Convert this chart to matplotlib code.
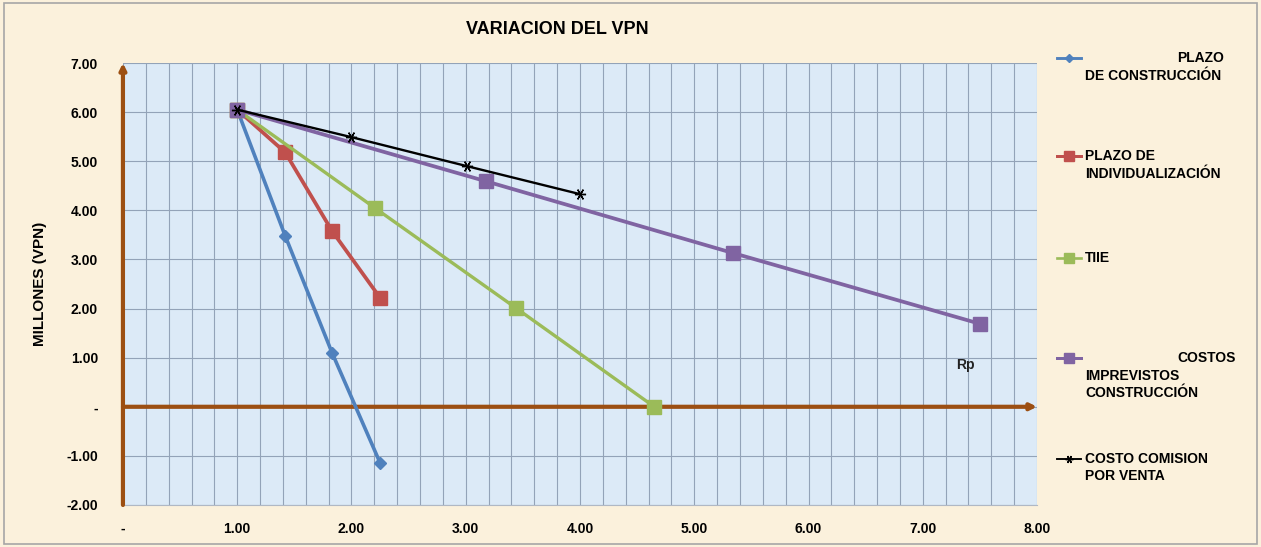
import matplotlib.pyplot as plt
import matplotlib.ticker as mticker
from matplotlib.lines import Line2D
from matplotlib.patches import Rectangle

plt.rcParams['font.family'] = ['Liberation Sans', 'DejaVu Sans']

# === DATOS ===
x_plazo_constr = [1.00, 1.42, 1.83, 2.25]
y_plazo_constr = [6.05, 3.48, 1.10, -1.14]

x_plazo_indiv = [1.00, 1.42, 1.83, 2.25]
y_plazo_indiv = [6.05, 5.18, 3.58, 2.22]

x_tiie = [1.00, 2.21, 3.44, 4.65]
y_tiie = [6.05, 4.04, 2.01, 0.00]

x_costos_impr = [1.00, 3.18, 5.34, 7.50]
y_costos_impr = [6.05, 4.59, 3.13, 1.69]

x_comision = [1.00, 2.00, 3.01, 4.00]
y_comision = [6.05, 5.49, 4.90, 4.33]

nombres = ['PLAZO DE CONSTRUCCIÓN', 'PLAZO DE INDIVIDUALIZACIÓN', 'TIIE',
           'COSTOS IMPREVISTOS CONSTRUCCIÓN', 'COSTO COMISION POR VENTA']

colores = ['#4F81BD', '#C0504D', '#9BBB59', '#8064A2', '#000000']
marcadores = ['D', 's', 's', 's', (6, 2, 90)]
tamanos = [6, 10, 10, 10, 8]
anchos = [2.6, 2.7, 2.4, 2.7, 1.7]

cafe = '#9C4F12'
fondo = '#FBF1DC'

# === FIGURA ===
fig = plt.figure(figsize=(12.61, 5.47), dpi=100, facecolor=fondo)
fig.add_artist(Rectangle((0.003, 0.006), 0.994, 0.988, transform=fig.transFigure,
                         facecolor='none', edgecolor='#A6A6A6', lw=1.2))

ax = fig.add_axes([0.0975, 0.0768, 0.7249, 0.808])
ax.set_facecolor('#DCEAF7')
ax.set_xlim(0, 8)
ax.set_ylim(-2, 7)

ax.xaxis.set_major_locator(mticker.MultipleLocator(1))
ax.xaxis.set_minor_locator(mticker.MultipleLocator(0.2))
ax.yaxis.set_major_locator(mticker.MultipleLocator(1))
ax.grid(True, which='both', axis='x', color='#93A3B8', lw=0.8)
ax.grid(True, which='major', axis='y', color='#93A3B8', lw=0.8)
ax.set_axisbelow(True)

def fmt(v, pos):
    return '-' if abs(v) < 1e-9 else f'{v:.2f}'

ax.xaxis.set_major_formatter(mticker.FuncFormatter(fmt))
ax.yaxis.set_major_formatter(mticker.FuncFormatter(fmt))
ax.tick_params(axis='both', which='both', length=0, labelsize=10, pad=12)
ax.tick_params(axis='y', pad=18)
for lbl in ax.get_xticklabels() + ax.get_yticklabels():
    lbl.set_fontweight('bold')

for s in ['top', 'right', 'left']:
    ax.spines[s].set_visible(False)
ax.spines['bottom'].set_color('#B0B8C4')
ax.spines['bottom'].set_linewidth(0.8)

# ejes con flecha
ax.annotate('', xy=(0, 7.0), xytext=(0, -2.0), xycoords='data',
            arrowprops=dict(arrowstyle='-|>', color=cafe, lw=3, mutation_scale=9,
                            shrinkA=0, shrinkB=0), annotation_clip=False)
ax.annotate('', xy=(8.0, 0), xytext=(0, 0), xycoords='data',
            arrowprops=dict(arrowstyle='-|>', color=cafe, lw=3, mutation_scale=9,
                            shrinkA=0, shrinkB=0), annotation_clip=False)

series = [(x_plazo_constr, y_plazo_constr), (x_plazo_indiv, y_plazo_indiv),
          (x_tiie, y_tiie), (x_costos_impr, y_costos_impr), (x_comision, y_comision)]
for i, (xs, ys) in enumerate(series):
    ax.plot(xs, ys, color=colores[i], lw=anchos[i], marker=marcadores[i],
            markersize=tamanos[i], zorder=3 + i)

ax.text(7.37, 0.85, 'Rp', fontsize=10, fontweight='bold', color='#222222',
        ha='center', va='center')

ax.set_ylabel('MILLONES (VPN)', fontsize=11, fontweight='bold', labelpad=14)
fig.text(557 / 1261, 1 - 30 / 547, 'VARIACION DEL VPN', fontsize=13,
         fontweight='bold', ha='center', va='center')

# === LEYENDA MANUAL ===
W, H = 1261, 547
entradas = [
    (58, [('PLAZO', 'right', 1224), ('DE CONSTRUCCIÓN', 'left', 1085)]),
    (156, [('PLAZO DE', 'left', 1085), ('INDIVIDUALIZACIÓN', 'left', 1085)]),
    (258, [('TIIE', 'left', 1085)]),
    (358, [('COSTOS', 'right', 1236), ('IMPREVISTOS', 'left', 1085),
           ('CONSTRUCCIÓN', 'left', 1085)]),
    (459, [('COSTO COMISION', 'left', 1085), ('POR VENTA', 'left', 1085)]),
]
for i, (yy, lineas) in enumerate(entradas):
    yf = 1 - yy / H
    fig.add_artist(Line2D([1057 / W, 1081 / W], [yf, yf], transform=fig.transFigure,
                          color=colores[i], lw=anchos[i] * 0.8))
    fig.add_artist(Line2D([1069 / W], [yf], transform=fig.transFigure,
                          color=colores[i], marker=marcadores[i],
                          markersize=tamanos[i] * 0.7, lw=0))
    for k, (txt, al, xp) in enumerate(lineas):
        fig.text(xp / W, 1 - (yy + k * 17.5) / H, txt, fontsize=10,
                 fontweight='bold', ha=al, va='center')

fig.savefig('out.png', dpi=100, facecolor=fondo)
